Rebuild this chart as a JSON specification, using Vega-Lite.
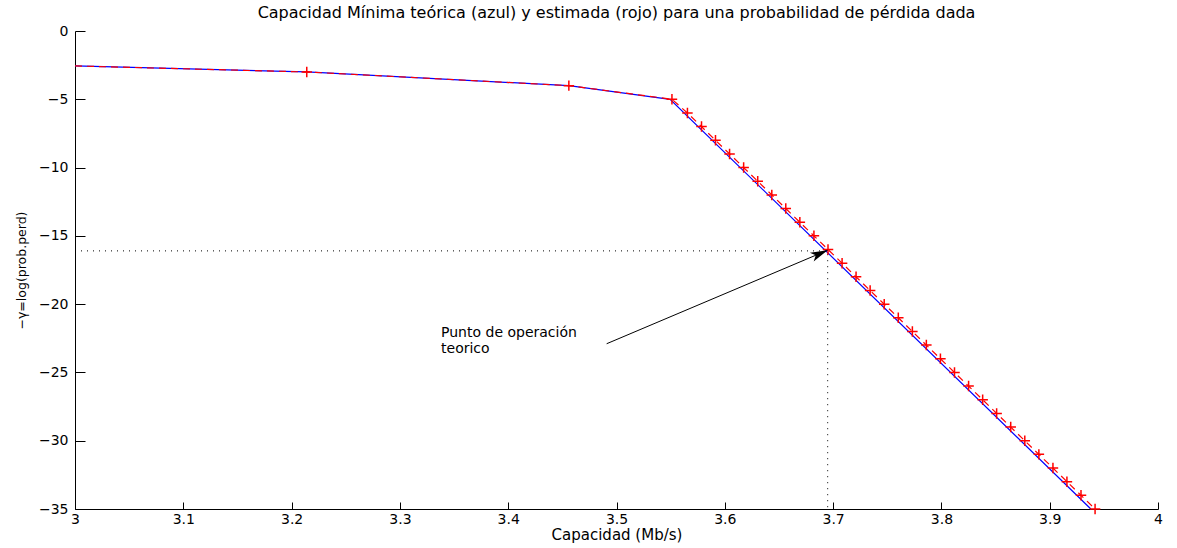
{
  "$schema": "https://vega.github.io/schema/vega-lite/v6.json",
  "autosize": {"type": "none"},
  "padding": {"left": 75, "top": 31, "right": 19, "bottom": 39},
  "width": 1083,
  "height": 478,
  "background": "white",
  "config": {
    "font": "DejaVu Sans",
    "view": {"stroke": null},
    "axis": {"grid": false, "domainColor": "#000", "tickColor": "#000", "labelColor": "#000", "titleColor": "#000", "labelFont": "DejaVu Sans", "titleFont": "DejaVu Sans", "titleFontWeight": "normal"}
  },
  "title": {
    "text": "Capacidad Mínima teórica (azul) y estimada (rojo) para una probabilidad de pérdida dada",
    "fontSize": 16,
    "fontWeight": "normal",
    "font": "DejaVu Sans",
    "color": "#000",
    "offset": 3
  },
  "datasets": {
    "teorica": [
      {"cap": 3.0, "logp": -2.56},
      {"cap": 3.214, "logp": -3.0},
      {"cap": 3.456, "logp": -4.0},
      {"cap": 3.5495, "logp": -5.0},
      {"cap": 3.938, "logp": -35.0}
    ],
    "estimada": [
      {"cap": 3.0, "logp": -2.56},
      {"cap": 3.214, "logp": -3},
      {"cap": 3.456, "logp": -4},
      {"cap": 3.5512, "logp": -5},
      {"cap": 3.5655, "logp": -6},
      {"cap": 3.5785, "logp": -7},
      {"cap": 3.5914, "logp": -8},
      {"cap": 3.6044, "logp": -9},
      {"cap": 3.6174, "logp": -10},
      {"cap": 3.6304, "logp": -11},
      {"cap": 3.6434, "logp": -12},
      {"cap": 3.6563, "logp": -13},
      {"cap": 3.6693, "logp": -14},
      {"cap": 3.6823, "logp": -15},
      {"cap": 3.6953, "logp": -16},
      {"cap": 3.7083, "logp": -17},
      {"cap": 3.7212, "logp": -18},
      {"cap": 3.7342, "logp": -19},
      {"cap": 3.7472, "logp": -20},
      {"cap": 3.7602, "logp": -21},
      {"cap": 3.7732, "logp": -22},
      {"cap": 3.7861, "logp": -23},
      {"cap": 3.7991, "logp": -24},
      {"cap": 3.8121, "logp": -25},
      {"cap": 3.8251, "logp": -26},
      {"cap": 3.8381, "logp": -27},
      {"cap": 3.851, "logp": -28},
      {"cap": 3.864, "logp": -29},
      {"cap": 3.877, "logp": -30},
      {"cap": 3.89, "logp": -31},
      {"cap": 3.903, "logp": -32},
      {"cap": 3.9159, "logp": -33},
      {"cap": 3.9289, "logp": -34},
      {"cap": 3.9419, "logp": -35}
    ],
    "guia": [
      {"cap": 3.0, "logp": -16.1, "paso": 1},
      {"cap": 3.695, "logp": -16.1, "paso": 2},
      {"cap": 3.695, "logp": -35.0, "paso": 3}
    ],
    "flecha": [
      {"cap": 3.4909, "logp": -22.9},
      {"cap": 3.695, "logp": -16.05}
    ],
    "punta": [
      {"cap": 3.695, "logp": -16.05}
    ],
    "texto": [
      {"cap": 3.338, "logp": -22.08, "linea": "Punto de operación"},
      {"cap": 3.338, "logp": -23.25, "linea": "teorico"}
    ]
  },
  "encoding": {
    "x": {
      "field": "cap",
      "type": "quantitative",
      "scale": {"domain": [3, 4], "nice": false, "zero": false},
      "axis": {
        "title": "Capacidad (Mb/s)",
        "titleFontSize": 15,
        "titlePadding": 1,
        "values": [3, 3.1, 3.2, 3.3, 3.4, 3.5, 3.6, 3.7, 3.8, 3.9, 4],
        "format": "~g",
        "labelFontSize": 14,
        "labelPadding": 10,
        "tickSize": -7,
        "labelFlush": false,
        "labelOverlap": false
      }
    },
    "y": {
      "field": "logp",
      "type": "quantitative",
      "scale": {"domain": [-35, 0], "nice": false, "zero": false},
      "axis": {
        "title": "−γ=log(prob.perd)",
        "titleFontSize": 12.5,
        "titlePadding": 10,
        "values": [0, -5, -10, -15, -20, -25, -30, -35],
        "format": "~g",
        "labelFontSize": 14,
        "labelPadding": 17,
        "tickSize": -10,
        "labelFlush": false,
        "labelOverlap": false
      }
    }
  },
  "layer": [
    {
      "data": {"name": "guia"},
      "mark": {"type": "line", "color": "#000", "strokeWidth": 1, "strokeDash": [1, 5]},
      "encoding": {"order": {"field": "paso", "type": "quantitative"}}
    },
    {
      "data": {"name": "teorica"},
      "mark": {"type": "line", "color": "#0000ff", "strokeWidth": 1.2}
    },
    {
      "data": {"name": "estimada"},
      "mark": {"type": "line", "color": "#ff0000", "strokeWidth": 1.2, "strokeDash": [7, 5]}
    },
    {
      "data": {"name": "estimada"},
      "transform": [{"filter": "datum.cap > 3"}],
      "mark": {"type": "point", "shape": "M-1,0L1,0M0,-1L0,1", "filled": false, "stroke": "#ff0000", "strokeWidth": 1.5, "size": 110, "opacity": 1}
    },
    {
      "data": {"name": "flecha"},
      "mark": {"type": "line", "color": "#000", "strokeWidth": 1}
    },
    {
      "data": {"name": "punta"},
      "mark": {"type": "point", "shape": "M0,0L-2,-0.55L-1.5,0L-2,0.55Z", "filled": true, "color": "#000", "size": 300, "angle": 336.7, "opacity": 1}
    },
    {
      "data": {"name": "texto"},
      "mark": {"type": "text", "align": "left", "baseline": "middle", "fontSize": 14, "font": "DejaVu Sans", "color": "#000"},
      "encoding": {"text": {"field": "linea"}}
    }
  ]
}
